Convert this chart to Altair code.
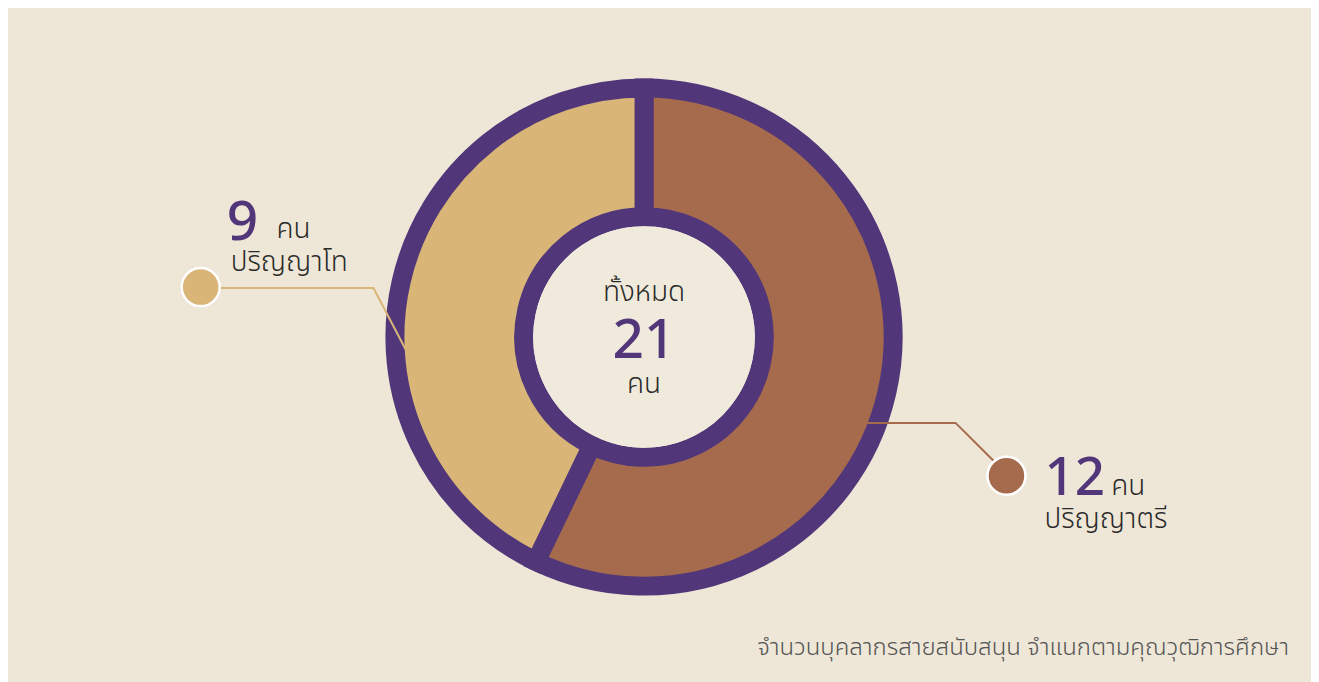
import altair as alt
import pandas as pd

# ---- data ----
levels = ["ปริญญาตรี", "ปริญญาโท"]
counts = [12, 9]
total_label = "ทั้งหมด"
total_value = sum(counts)
unit = "คน"
caption = "จำนวนบุคลากรสายสนับสนุน จำแนกตามคุณวุฒิการศึกษา"

# ---- style ----
BG = "#EEE7D7"
INNER = "#F0EADC"
PURPLE = "#51377A"
BROWN = "#A66B4D"
TAN = "#D9B677"
DARK = "#2A2A2A"
GREY = "#555555"
FONT = "Noto Sans Thai, Noto Sans"
colors = [BROWN, TAN]

W, H = 1305, 674
X0, Y0 = 8, 8  # page offset of chart origin
CX, CY = 645, 337

xs = alt.Scale(domain=[X0, X0 + W], nice=False, zero=False)
ys = alt.Scale(domain=[Y0, Y0 + H], nice=False, zero=False, reverse=True)

slices = pd.DataFrame({"level": levels, "count": counts, "idx": [0, 1]})

donut = alt.Chart(slices).mark_arc(
    outerRadius=249.5, innerRadius=120.5, stroke=PURPLE, strokeWidth=19
).encode(
    theta=alt.Theta("count:Q", stack=True),
    order=alt.Order("idx:Q"),
    color=alt.Color("level:N", scale=alt.Scale(domain=levels, range=colors), legend=None),
    x=alt.datum(CX, scale=xs, axis=None),
    y=alt.datum(CY, scale=ys, axis=None),
)

inner = alt.Chart(pd.DataFrame({"a": [1]})).mark_arc(
    outerRadius=111, innerRadius=0, color=INNER
).encode(
    theta=alt.value(6.2832),
    x=alt.datum(CX, scale=xs, axis=None),
    y=alt.datum(CY, scale=ys, axis=None),
)

# leader lines (annotation layout)
lines = pd.DataFrame({
    "level": ["ปริญญาโท"] * 3 + ["ปริญญาตรี"] * 3,
    "i": [0, 1, 2, 0, 1, 2],
    "px": [220, 374, 406, 866, 957, 996],
    "py": [288, 288, 349, 423, 423, 462],
})
leader = alt.Chart(lines).mark_line(strokeWidth=2).encode(
    x=alt.X("px:Q", scale=xs, axis=None),
    y=alt.Y("py:Q", scale=ys, axis=None),
    detail="level:N",
    order="i:Q",
    color=alt.Color("level:N", scale=alt.Scale(domain=levels, range=colors), legend=None),
)

dots = pd.DataFrame({"level": ["ปริญญาโท", "ปริญญาตรี"], "px": [201, 1008], "py": [287, 476]})
dot = alt.Chart(dots).mark_point(
    shape="circle", filled=True, size=1450, stroke="white", strokeWidth=2.5, opacity=1
).encode(
    x=alt.X("px:Q", scale=xs, axis=None),
    y=alt.Y("py:Q", scale=ys, axis=None),
    fill=alt.Fill("level:N", scale=alt.Scale(domain=levels, range=colors), legend=None),
)

def txt(text, px, py, size, color, align="left", weight=300):
    return alt.Chart(pd.DataFrame({"t": [text], "px": [px], "py": [py]})).mark_text(
        align=align, baseline="alphabetic", fontSize=size, font=FONT,
        color=color, fontWeight=weight
    ).encode(
        x=alt.X("px:Q", scale=xs, axis=None),
        y=alt.Y("py:Q", scale=ys, axis=None),
        text="t:N",
    )

NUM = 55
LBL = 28
texts = [
    txt(str(counts[1]), 227, 240, NUM, PURPLE, weight=500),
    txt(unit, 277, 238, LBL, DARK),
    txt(levels[1], 231, 271, LBL, DARK),
    txt(str(counts[0]), 1046, 495, 53, PURPLE, weight=500),
    txt(unit, 1113, 495, LBL, DARK),
    txt(levels[0], 1046, 528, LBL, DARK),
    txt(total_label, CX, 301, LBL, DARK, align="center"),
    txt(str(total_value), CX, 358, NUM, PURPLE, align="center", weight=500),
    txt(unit, CX, 393, LBL, DARK, align="center"),
    txt(caption, 1291, 655, 24, GREY, align="right"),
]

chart = alt.layer(donut, inner, leader, dot, *texts).properties(
    width=W, height=H, background=BG, padding=0,
    autosize=alt.AutoSizeParams(type="fit", contains="padding"),
).configure_view(stroke=None)

chart.save("out.html", embed_options={"renderer": "svg", "actions": False})
